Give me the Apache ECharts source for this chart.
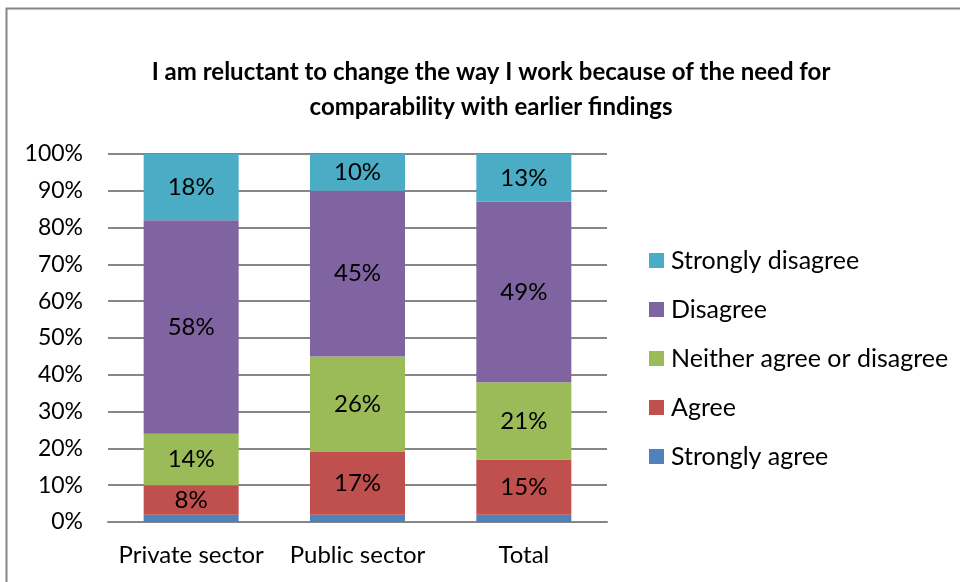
<!DOCTYPE html>
<html>
<head>
<meta charset="utf-8">
<script src="https://cdn.jsdelivr.net/npm/echarts@6/dist/echarts.min.js"></script>
<style>
  html, body { margin: 0; padding: 0; background: #fff; }
  #chart { width: 960px; height: 582px; }
</style>
</head>
<body>
<div id="chart"></div>
<script>
// Survey responses by sector, shares in percent
const categories = ['Private sector', 'Public sector', 'Total'];
const stronglyAgree = [2, 2, 2];
const agree = [8, 17, 15];
const neither = [14, 26, 21];
const disagree = [58, 45, 49];
const stronglyDisagree = [18, 10, 13];
const yTicks = [0, 10, 20, 30, 40, 50, 60, 70, 80, 90, 100];

const FONT = 'Lato, "Open Sans", sans-serif';

const chart = echarts.init(document.getElementById('chart'));

function seriesOf(name, data, color, showLabel) {
  return {
    name: name,
    type: 'bar',
    stack: 'share',
    data: data,
    barWidth: 95,
    itemStyle: { color: color },
    label: {
      show: showLabel,
      position: 'inside',
      color: '#000',
      fontFamily: FONT,
      fontSize: 24,
      formatter: p => p.value + '%'
    },
    emphasis: { disabled: true }
  };
}

chart.setOption({
  animation: false,
  backgroundColor: '#fff',
  title: {
    text: 'I am reluctant to change the way I work because of the need for\ncomparability with earlier findings',
    left: 486,
    textAlign: 'center',
    top: 50,
    textStyle: {
      fontFamily: FONT,
      fontWeight: 'bold',
      fontSize: 24,
      lineHeight: 35,
      color: '#000'
    }
  },
  grid: { left: 108, right: 353, top: 154, bottom: 60 },
  legend: {
    orient: 'vertical',
    left: 649,
    top: 248,
    padding: 0,
    itemWidth: 15,
    itemHeight: 15,
    itemGap: 24,
    icon: 'rect',
    data: ['Strongly disagree', 'Disagree', 'Neither agree or disagree', 'Agree', 'Strongly agree'],
    textStyle: { fontFamily: FONT, fontSize: 25, color: '#000', lineHeight: 24, padding: [0, 0, 0, 2] }
  },
  xAxis: {
    type: 'category',
    data: categories,
    axisLine: { show: true, lineStyle: { color: '#868686', width: 2 } },
    axisTick: { show: false },
    axisLabel: { interval: 0, hideOverlap: false, fontFamily: FONT, fontSize: 24, color: '#000', margin: 21 }
  },
  yAxis: {
    type: 'value',
    min: yTicks[0],
    max: yTicks[yTicks.length - 1],
    interval: 10,
    axisLine: { show: false },
    axisTick: { show: false },
    splitLine: { lineStyle: { color: '#868686', width: 2 } },
    axisLabel: { fontFamily: FONT, fontSize: 23, color: '#000', margin: 25, formatter: v => v + '%' }
  },
  series: [
    seriesOf('Strongly agree', stronglyAgree, '#4F81BD', false),
    seriesOf('Agree', agree, '#C0504D', true),
    seriesOf('Neither agree or disagree', neither, '#9BBB59', true),
    seriesOf('Disagree', disagree, '#8064A2', true),
    seriesOf('Strongly disagree', stronglyDisagree, '#4BACC6', true)
  ],
  graphic: [{
    type: 'rect',
    shape: { x: 6.5, y: 8.5, width: 1000, height: 600 },
    style: { fill: null, stroke: '#868686', lineWidth: 2 },
    silent: true
  }]
});
</script>
</body>
</html>
